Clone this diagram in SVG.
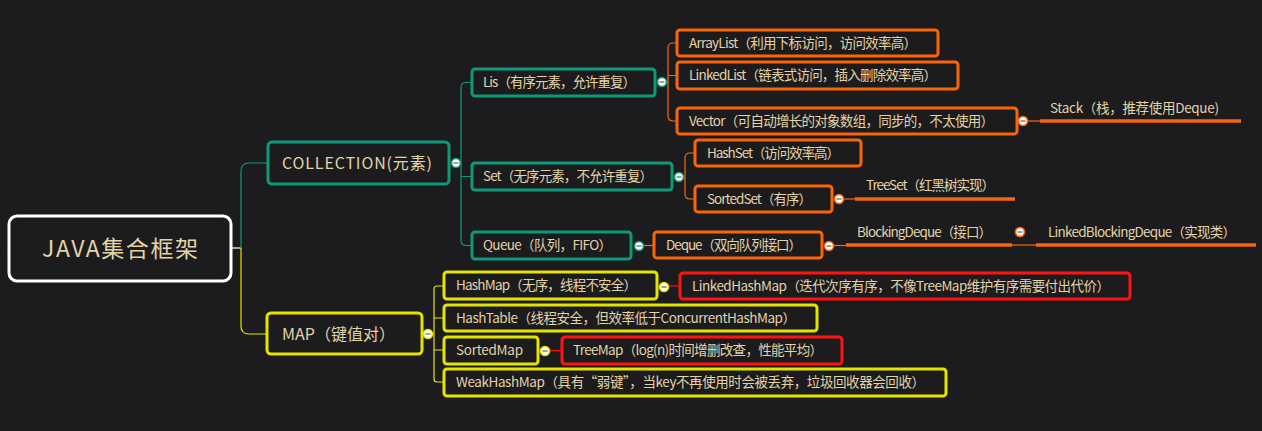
<svg xmlns="http://www.w3.org/2000/svg" width="1262" height="431" viewBox="0 0 1262 431">
<style>
text{font-family:"Noto Sans CJK SC","Noto Sans",sans-serif;fill:#e3d3a6;font-size:13.5px}
.t{stroke:#0e9a78}.o{stroke:#fb6509}.y{stroke:#e4e400}.r{stroke:#ff1212}
rect.n{fill:#1c1c1e;stroke-width:3}
.c path{fill:none;stroke-width:1.2}
.c path.u{stroke-width:3.4}
.k circle{fill:#fff;stroke-width:1.6}
.k line{stroke:#777;stroke-width:1.4}
</style>
<rect width="1262" height="431" fill="#1c1c1e"/>
<g id="connectors" class="c">
<path d="M232,248 H241" stroke="#fff"/>
<path class="t" d="M241,248 V171 Q241,163 249,163 H268"/>
<path class="y" d="M241,248 V326 Q241,334 249,334 H267"/>
<path class="t" d="M456,163 H461 M472,82.5 H466 Q461,82.5 461,87.5 V240 Q461,245.5 466,245.5 H472 M461,176.5 H472"/>
<path class="o" d="M662,82 H668 M677,43 H673 Q668,43 668,48 V116 Q668,121 673,121 H677 M668,75.5 H677"/>
<path class="o" d="M679,177 H685 M695,153 H690 Q685,153 685,158 V194 Q685,199 690,199 H695"/>
<path class="o" d="M639,245.5 H654"/>
<path class="o" d="M1023,121 H1040"/>
<path class="u o" d="M1040,121 H1241"/>
<path class="o" d="M839,199 H855"/>
<path class="u o" d="M855,199 H1015"/>
<path class="o" d="M829,245.5 H846"/>
<path class="u o" d="M846,245 H1012"/>
<path class="o" d="M1012,245 H1036"/>
<path class="u o" d="M1036,245 H1256"/>
<path class="y" d="M428,334 H434 M444,286 H437 Q434,286 434,289 V379 Q434,382 437,382 H444 M434,318 H444 M434,350 H444"/>
<path class="r" d="M664,286 H680"/>
<path class="r" d="M545,350.5 H562"/>
</g>
<g id="root"><rect x="9" y="216" width="222" height="65" rx="8" fill="#1c1c1e" stroke="#fff" stroke-width="3"/><text x="42" y="257" style="font-size:23px" textLength="156">JAVA集合框架</text></g>
<g id="collection"><rect class="n t" x="268" y="142" width="181" height="42" rx="4"/><text x="282" y="169" style="font-size:16px" textLength="150">COLLECTION(元素)</text></g>
<g id="map"><rect class="n y" x="267" y="313" width="155" height="41" rx="4"/><text x="282" y="340" style="font-size:16px" textLength="113">MAP（键值对）</text></g>
<g id="lis"><rect class="n t" x="472" y="69" width="183" height="27" rx="3"/><text x="483" y="87" textLength="153">Lis（有序元素，允许重复）</text></g>
<g id="set"><rect class="n t" x="472" y="163" width="200" height="27" rx="3"/><text x="483" y="181" textLength="170">Set（无序元素，不允许重复）</text></g>
<g id="queue"><rect class="n t" x="472" y="232" width="159" height="27" rx="3"/><text x="483" y="250" textLength="129">Queue（队列，FIFO）</text></g>
<g id="arraylist"><rect class="n o" x="677" y="30" width="261" height="26" rx="3"/><text x="689" y="47.5" textLength="228">ArrayList（利用下标访问，访问效率高）</text></g>
<g id="linkedlist"><rect class="n o" x="677" y="62" width="281" height="27" rx="3"/><text x="689" y="80" textLength="248">LinkedList（链表式访问，插入删除效率高）</text></g>
<g id="vector"><rect class="n o" x="677" y="108" width="340" height="26" rx="3"/><text x="689" y="125.5" textLength="305">Vector（可自动增长的对象数组，同步的，不太使用）</text></g>
<g id="stack"><text x="1050" y="113" textLength="169">Stack（栈，推荐使用Deque)</text></g>
<g id="hashset"><rect class="n o" x="695" y="140" width="166" height="26" rx="3"/><text x="707" y="157.5" textLength="133">HashSet（访问效率高）</text></g>
<g id="sortedset"><rect class="n o" x="695" y="186" width="137" height="26" rx="3"/><text x="707" y="203.5" textLength="105">SortedSet（有序）</text></g>
<g id="treeset"><text x="866" y="190" textLength="129">TreeSet（红黑树实现）</text></g>
<g id="deque"><rect class="n o" x="654" y="232" width="168" height="26" rx="3"/><text x="666" y="249.5" textLength="136">Deque（双向队列接口）</text></g>
<g id="blockingdeque"><text x="857" y="237" textLength="135">BlockingDeque（接口）</text></g>
<g id="linkedblockingdeque"><text x="1048" y="237" textLength="188">LinkedBlockingDeque（实现类）</text></g>
<g id="hashmap"><rect class="n y" x="444" y="272" width="213" height="27" rx="3"/><text x="456" y="290" textLength="181">HashMap（无序，线程不安全）</text></g>
<g id="linkedhashmap"><rect class="n r" x="680" y="273" width="450" height="26" rx="3"/><text x="692" y="290.5" textLength="418">LinkedHashMap（迭代次序有序，不像TreeMap维护有序需要付出代价）</text></g>
<g id="hashtable"><rect class="n y" x="444" y="305" width="373" height="26" rx="3"/><text x="456" y="322.5" textLength="340">HashTable（线程安全，但效率低于ConcurrentHashMap）</text></g>
<g id="sortedmap"><rect class="n y" x="444" y="337" width="94" height="27" rx="3"/><text x="456" y="355" textLength="67">SortedMap</text></g>
<g id="treemap"><rect class="n r" x="562" y="337" width="280" height="27" rx="3"/><text x="573" y="355" textLength="250">TreeMap（log(n)时间增删改查，性能平均）</text></g>
<g id="weakhashmap"><rect class="n y" x="444" y="369" width="502" height="27" rx="3"/><text x="456" y="387" textLength="469">WeakHashMap（具有“弱键”，当key不再使用时会被丢弃，垃圾回收器会回收）</text></g>
<g id="collapse" class="k">
<circle class="t" cx="456" cy="163" r="4.5"/><line x1="453.5" y1="163" x2="458.5" y2="163"/>
<circle class="y" cx="428" cy="334" r="4.5"/><line x1="425.5" y1="334" x2="430.5" y2="334"/>
<circle class="t" cx="662" cy="82" r="4.5"/><line x1="659.5" y1="82" x2="664.5" y2="82"/>
<circle class="t" cx="679" cy="177" r="4.5"/><line x1="676.5" y1="177" x2="681.5" y2="177"/>
<circle class="t" cx="639" cy="246" r="4.5"/><line x1="636.5" y1="246" x2="641.5" y2="246"/>
<circle class="o" cx="1023" cy="121" r="4.5"/><line x1="1020.5" y1="121" x2="1025.5" y2="121"/>
<circle class="o" cx="839" cy="199" r="4.5"/><line x1="836.5" y1="199" x2="841.5" y2="199"/>
<circle class="o" cx="829" cy="246" r="4.5"/><line x1="826.5" y1="246" x2="831.5" y2="246"/>
<circle class="o" cx="1020" cy="232" r="4.5"/><line x1="1017.5" y1="232" x2="1022.5" y2="232"/>
<circle class="y" cx="664" cy="287" r="4.5"/><line x1="661.5" y1="287" x2="666.5" y2="287"/>
<circle class="y" cx="545" cy="351" r="4.5"/><line x1="542.5" y1="351" x2="547.5" y2="351"/>
</g>
</svg>
